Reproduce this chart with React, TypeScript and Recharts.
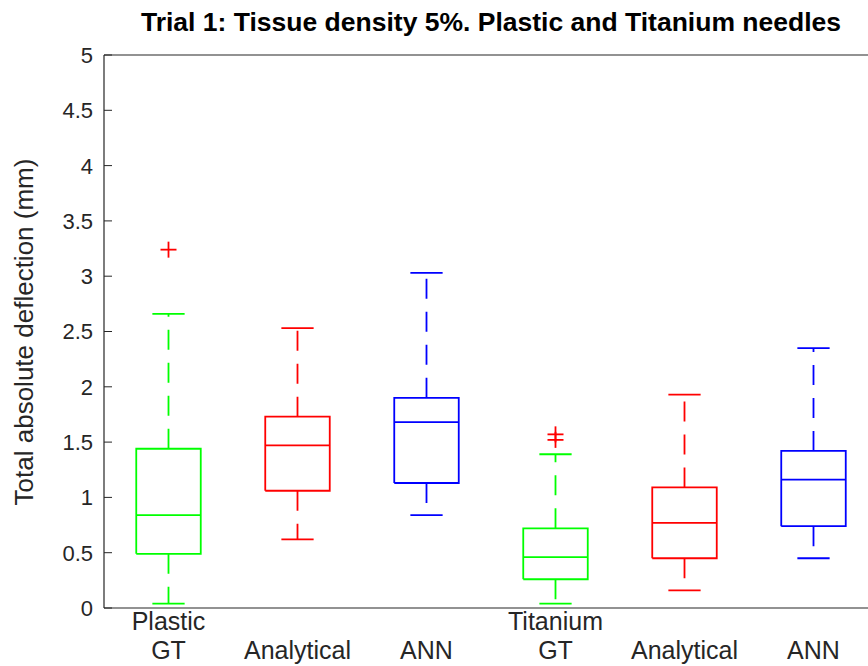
import React from 'react';
import { ComposedChart, Line, Scatter, XAxis, YAxis, ReferenceLine } from 'recharts';

// ---- data ----
const labelLine1 = ['Plastic', '', '', 'Titanium', '', ''];
const labelLine2 = ['GT', 'Analytical', 'ANN', 'GT', 'Analytical', 'ANN'];
const boxColors = ['#00ff00', '#ff0000', '#0000ff', '#00ff00', '#ff0000', '#0000ff'];

const lowerWhisker = [0.04, 0.62, 0.84, 0.04, 0.16, 0.45];
const q1 = [0.49, 1.06, 1.13, 0.26, 0.45, 0.74];
const median = [0.84, 1.47, 1.68, 0.46, 0.77, 1.16];
const q3 = [1.44, 1.73, 1.90, 0.72, 1.09, 1.42];
const upperWhisker = [2.66, 2.53, 3.03, 1.39, 1.93, 2.35];

const outlierPos = [1, 4, 4];
const outlierVal = [3.24, 1.57, 1.52];

const yTicks = [0, 0.5, 1, 1.5, 2, 2.5, 3, 3.5, 4, 4.5, 5];

// ---- style constants ----
const BOX_HALF = 0.25;
const CAP_HALF = 0.125;
const AXIS_COLOR = '#262626';
const FONT = '"Liberation Sans", Arial, Helvetica, sans-serif';
const TICK_MARGIN = 11;

type P = { x: number; v: number | null };

function solidPath(i: number): P[] {
  const x = i + 1;
  return [
    { x: x - BOX_HALF, v: q1[i] },
    { x: x + BOX_HALF, v: q1[i] },
    { x: x + BOX_HALF, v: q3[i] },
    { x: x - BOX_HALF, v: q3[i] },
    { x: x - BOX_HALF, v: q1[i] },
    { x: x, v: null },
    { x: x - BOX_HALF, v: median[i] },
    { x: x + BOX_HALF, v: median[i] },
    { x: x, v: null },
    { x: x - CAP_HALF, v: upperWhisker[i] },
    { x: x + CAP_HALF, v: upperWhisker[i] },
    { x: x, v: null },
    { x: x - CAP_HALF, v: lowerWhisker[i] },
    { x: x + CAP_HALF, v: lowerWhisker[i] },
  ];
}

function dashedPath(i: number): P[] {
  const x = i + 1;
  return [
    { x, v: q3[i] },
    { x, v: upperWhisker[i] },
    { x, v: null },
    { x, v: q1[i] },
    { x, v: lowerWhisker[i] },
  ];
}

const outlierData = outlierPos.map((x, i) => ({ x, v: outlierVal[i] }));

const PlusShape = (props: any) => {
  const { cx, cy } = props;
  if (cx == null || cy == null) return null;
  const s = 8;
  return (
    <g stroke="#ff0000" strokeWidth={1.8}>
      <line x1={cx - s} x2={cx + s} y1={cy} y2={cy} />
      <line x1={cx} x2={cx} y1={cy - s} y2={cy + s} />
    </g>
  );
};

const YTick = (props: any) => {
  const { x, y, payload } = props;
  const axisX = x + TICK_MARGIN;
  return (
    <g>
      <line x1={axisX} x2={axisX + 8} y1={y} y2={y} stroke={AXIS_COLOR} strokeWidth={1} />
      <text x={x} y={y} dy="0.36em" textAnchor="end" fontSize={22} fontFamily={FONT} fill={AXIS_COLOR}>
        {String(payload.value)}
      </text>
    </g>
  );
};

const XTick = (props: any) => {
  const { x, y, payload } = props;
  const idx = Math.round(payload.value) - 1;
  if (idx < 0 || idx >= labelLine2.length) return null;
  return (
    <g>
      {labelLine1[idx] ? (
        <text x={x} y={y + 22} textAnchor="middle" fontSize={25} fontFamily={FONT} fill={AXIS_COLOR}>
          {labelLine1[idx]}
        </text>
      ) : null}
      <text x={x} y={y + 51} textAnchor="middle" fontSize={25} fontFamily={FONT} fill={AXIS_COLOR}>
        {labelLine2[idx]}
      </text>
    </g>
  );
};

const YLabel = () => (
  <text
    x={24}
    y={332}
    transform="rotate(-90 24 332)"
    textAnchor="middle"
    dominantBaseline="central"
    fontSize={26}
    fontFamily={FONT}
    fill={AXIS_COLOR}
  >
    Total absolute deflection (mm)
  </text>
);

export default function App() {
  return (
    <div
      style={{
        position: 'absolute',
        left: 0,
        top: 0,
        width: 868,
        height: 666,
        overflow: 'hidden',
        background: '#ffffff',
      }}
    >
      <div
        style={{
          position: 'absolute',
          left: 0,
          top: 9,
          width: 982,
          textAlign: 'center',
          fontFamily: FONT,
          fontWeight: 'bold',
          fontSize: 26.5,
          lineHeight: '27px',
          color: '#000000',
          whiteSpace: 'nowrap',
        }}
      >
        Trial 1: Tissue density 5%. Plastic and Titanium needles
      </div>
      <div style={{ position: 'absolute', left: 0, top: 0 }}>
        <ComposedChart width={890} height={666} margin={{ top: 55, right: 12, bottom: 0, left: 0 }}>
          <XAxis
            type="number"
            dataKey="x"
            domain={[0.5, 6.5]}
            ticks={[1, 2, 3, 4, 5, 6]}
            allowDataOverflow
            height={58}
            tickSize={0}
            tickMargin={0}
            tickLine={false}
            axisLine={{ stroke: AXIS_COLOR, strokeWidth: 1.2 }}
            tick={<XTick />}
            interval={0}
          />
          <YAxis
            type="number"
            dataKey="v"
            domain={[0, 5]}
            ticks={yTicks}
            allowDataOverflow
            width={104}
            tickSize={0}
            tickMargin={TICK_MARGIN}
            tickLine={false}
            axisLine={{ stroke: AXIS_COLOR, strokeWidth: 1.2 }}
            tick={<YTick />}
            interval={0}
            label={<YLabel />}
          />
          <ReferenceLine y={5} stroke={AXIS_COLOR} strokeWidth={1.2} ifOverflow="extendDomain" />
          <ReferenceLine x={6.5} stroke={AXIS_COLOR} strokeWidth={1.2} />
          {boxColors.map((c, i) => (
            <Line
              key={'d' + i}
              data={dashedPath(i)}
              dataKey="v"
              type="linear"
              stroke={c}
              strokeWidth={1.8}
              strokeDasharray="20 13"
              dot={false}
              activeDot={false}
              connectNulls={false}
              isAnimationActive={false}
              legendType="none"
            />
          ))}
          {boxColors.map((c, i) => (
            <Line
              key={'s' + i}
              data={solidPath(i)}
              dataKey="v"
              type="linear"
              stroke={c}
              strokeWidth={1.8}
              dot={false}
              activeDot={false}
              connectNulls={false}
              isAnimationActive={false}
              legendType="none"
            />
          ))}
          <Scatter data={outlierData} dataKey="v" shape={<PlusShape />} isAnimationActive={false} legendType="none" />
        </ComposedChart>
      </div>
    </div>
  );
}
